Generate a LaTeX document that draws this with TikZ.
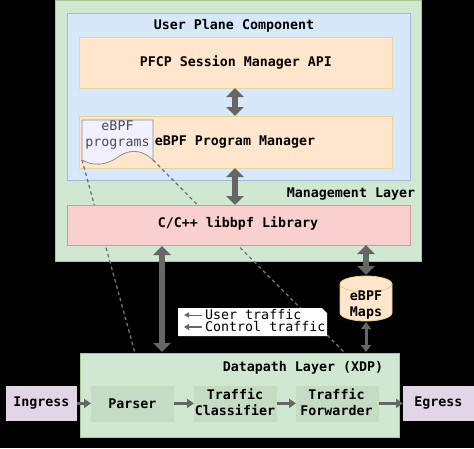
\documentclass[tikz,border=0pt]{standalone}
\usepackage{fontspec}
\setmainfont{DejaVu Sans Mono}
\usetikzlibrary{arrows.meta,calc}
\definecolor{arrowgray}{HTML}{666666}
\definecolor{greenF}{HTML}{D0E8D2}
\definecolor{greenD}{HTML}{82B366}
\definecolor{blueF}{HTML}{D8E8FB}
\definecolor{blueD}{HTML}{6C8EBF}
\definecolor{orangeF}{HTML}{FFE6CC}
\definecolor{orangeD}{HTML}{D6B656}
\definecolor{redF}{HTML}{F9D0CE}
\definecolor{redD}{HTML}{B85450}
\definecolor{purpleF}{HTML}{E1D5E7}
\definecolor{greenM}{HTML}{C5DCC4}
\tikzset{
  x=1pt,y=-1pt,
  box/.style={draw,line width=0.8pt,inner sep=0pt,font=\fontsize{13.3}{16}\selectfont\bfseries,align=center,anchor=north west},
  greenbox/.style={box,fill=greenF,draw=greenD!70},
  bluebox/.style={box,fill=blueF,draw=blueD!60},
  orangebox/.style={box,fill=orangeF,draw=orangeD!60},
  redbox/.style={box,fill=redF,draw=redD!60},
  purplebox/.style={box,fill=purpleF,draw=purpleF},
  stagebox/.style={box,fill=greenM,draw=greenD!45},
  lbl/.style={font=\fontsize{13.3}{16}\selectfont\bfseries,inner sep=0pt,text=black,align=center},
  bigdbl/.style={arrowgray,line width=6pt,{Triangle[length=9pt,width=17pt]}-{Triangle[length=9pt,width=17pt]}},
  smalldbl/.style={arrowgray,line width=3pt,{Triangle[length=7pt,width=10pt]}-{Triangle[length=7pt,width=10pt]}},
  flow/.style={arrowgray,line width=2.5pt,-{Triangle[length=7pt,width=9pt]}},
  dashline/.style={black!55,line width=1.3pt,dash pattern=on 3.5pt off 3pt},
}
\begin{document}
\begin{tikzpicture}
\useasboundingbox (0,0) rectangle (474,448);
\fill[black] (0,0) rectangle (474,448);
% management layer
\node[greenbox,minimum width=366pt,minimum height=261pt] (mgmt) at (55,0) {};
\node[bluebox,minimum width=343pt,minimum height=167pt] (up) at (67,13) {};
\node[lbl] (uptitle) at (234,26) {User Plane Component};
\node[orangebox,minimum width=313pt,minimum height=51pt] (pfcp) at (79,37) {PFCP Session Manager API};
\node[orangebox,minimum width=313pt,minimum height=52pt] (mgr) at (79,116) {};
\node[lbl] (mgrt) at (235,142) {eBPF Program Manager};
\node[lbl] (mgmtt) at (351,194) {Management Layer};
% datapath
\node[greenbox,minimum width=319pt,minimum height=84pt] (dp) at (80,353) {};
\node[lbl] (dpt) at (303,368) {Datapath Layer (XDP)};
\node[purplebox,minimum width=70pt,minimum height=34pt] (ing) at (6,386) {Ingress};
\node[purplebox,minimum width=70pt,minimum height=34pt] (eg) at (403,386) {Egress};
\node[stagebox,minimum width=82pt,minimum height=35pt] (parser) at (91,385.5) {Parser};
\node[stagebox,minimum width=82pt,minimum height=35pt] (class) at (194,385.5) {};
\node[lbl] (classt) at (235,402) {Traffic\\Classifier};
\node[stagebox,minimum width=82pt,minimum height=35pt] (fwd) at (296,385.5) {};
\node[lbl] (fwdt) at (336.5,402) {Traffic\\Forwarder};
% dashed lines
\coordinate (d1a) at (82,160);
\coordinate (d1b) at (135,353);
\coordinate (d2a) at (153,160);
\coordinate (d2b) at (345,353);
\draw[dashline] (d1a) -- (d1b);
\draw[dashline] (d2a) -- (d2b);
% library box hides the dashes passing behind it
\node[redbox,minimum width=343pt,minimum height=40pt] (lib) at (67,205) {};
\node[lbl] (libt) at (238,223.5) {C/C++ libbpf Library};
% ebpf programs document
\path[draw=black!45,fill=white!94!blue,line width=0.8pt]
  (82,120) -- (153,120) -- (153,160)
  .. controls (140,148) and (128,150) .. (118,157)
  .. controls (106,166) and (92,166) .. (82,160) -- cycle;
\node[font=\fontsize{13.3}{16}\selectfont,text=black!70,align=center,inner sep=0pt] (prog) at (117.5,135) {eBPF\\programs};
% cylinder
\path[draw=orangeD!70,fill=orangeF,line width=0.8pt]
  (340,284) -- (340,313)
  .. controls (340,317.4) and (351.6,321) .. (366,321)
  .. controls (380.4,321) and (392,317.4) .. (392,313)
  -- (392,284)
  .. controls (392,279.6) and (380.4,276) .. (366,276)
  .. controls (351.6,276) and (340,279.6) .. (340,284) -- cycle;
\path[draw=orangeD!70,line width=0.8pt]
  (340,284) .. controls (340,288.4) and (351.6,292) .. (366,292)
  .. controls (380.4,292) and (392,288.4) .. (392,284);
\node[lbl] (maps) at (366,305.5) {eBPF\\Maps};
% connectors
\coordinate (a1) at (235,88);
\coordinate (a2) at (235,116);
\coordinate (a3) at (235,168);
\coordinate (a4) at (235,205);
\draw[bigdbl] (a1) -- (a2);
\draw[bigdbl] (a3) -- (a4);
\coordinate (la) at (162,246);
\coordinate (lb) at (162,352);
\draw[bigdbl] (la) -- (lb);
\coordinate (ma) at (366,245);
\coordinate (mt) at (366,275);
\draw[bigdbl] (ma) -- (mt);
\coordinate (mb) at (366,322);
\coordinate (mc) at (366,352);
\draw[smalldbl] (mb) -- (mc);
\draw[flow] (ing.east) -- (parser.west);
\draw[flow] (parser.east) -- (class.west);
\draw[flow] (class.east) -- (fwd.west);
\draw[flow] (fwd.east) -- (eg.west);
% legend
\path[fill=white] (178,308) -- (322,308) -- (327,313) -- (327,336) -- (178,336) -- cycle;
\node[font=\fontsize{13.3}{12}\selectfont,text=black,inner sep=0pt,anchor=west,align=left] (legend) at (205,321) {User traffic\\Control traffic};
\coordinate (k1a) at (202,315);
\coordinate (k1b) at (184,315);
\coordinate (k2a) at (202,327);
\coordinate (k2b) at (184,327);
\draw[arrowgray,line width=1pt,-{Triangle[length=5pt,width=5pt]}] (k1a) -- (k1b);
\draw[arrowgray,line width=2pt,-{Triangle[length=5pt,width=6pt]}] (k2a) -- (k2b);
\end{tikzpicture}
\end{document}
